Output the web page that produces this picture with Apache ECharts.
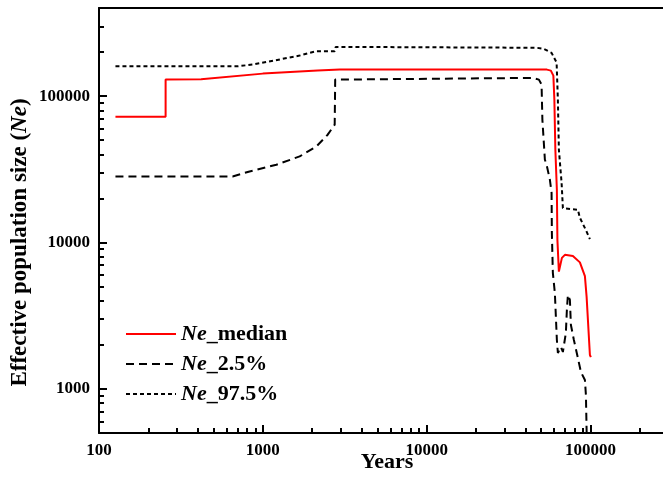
<!DOCTYPE html>
<html>
<head>
<meta charset="utf-8">
<script src="https://cdn.jsdelivr.net/npm/echarts@6/dist/echarts.min.js"></script>
<style>
  html, body { margin: 0; padding: 0; background: #fff; }
  #chart { width: 663px; height: 477px; }
</style>
</head>
<body>
<div id="chart"></div>
<script>
// tick values
const xMajor = [100, 1000, 10000, 100000];
const xMinor = [200, 300, 400, 500, 600, 700, 800, 900,
  2000, 3000, 4000, 5000, 6000, 7000, 8000, 9000,
  20000, 30000, 40000, 50000, 60000, 70000, 80000, 90000, 200000];
const yMajor = [1000, 10000, 100000];
const yMinor = [600, 700, 800, 900,
  2000, 3000, 4000, 5000, 6000, 7000, 8000, 9000,
  20000, 30000, 40000, 50000, 60000, 70000, 80000, 90000, 200000, 300000];

// Ne_median
const medianYears = [126, 255, 255, 420, 425, 1000, 2160, 2950, 54150, 57280, 59330, 60170, 61020, 62330, 62800,
  64120, 66900, 69770, 78070, 86140, 92430, 94660, 99160, 100500];
const medianNe = [72400, 72400, 129700, 130500, 134000, 142500, 149400, 151800, 151800, 149400, 138100, 94630, 43060, 22930, 10430,
  6330, 7860, 8240, 8087, 7320, 5900, 4272, 1705, 1650];

// Ne_2.5%
const lowYears = [126, 654, 830, 1209, 1678, 2123, 2488, 2745, 2765, 44480, 48420, 50270, 50850, 52670, 53930, 56490,
  57860, 58100, 58910, 60590, 62330, 63220, 65950, 67830, 70730, 71740, 72770, 74850, 75920, 79170, 83750,
  87400, 92430, 93760, 95100];
const lowNe = [28280, 28280, 30590, 34000, 38740, 45350, 54540, 63830, 129700, 133200, 129700, 119900, 69000, 36780, 34000, 26850,
  21880, 11650, 6210, 4530, 2160, 1760, 1935, 1788, 2413, 3465, 4388, 4056, 2735, 2160, 1627,
  1305, 1150, 909, 400];

// Ne_97.5%
const highYears = [126, 700, 866, 1321, 1678, 1931, 2123, 2745, 2784, 46860, 51500, 57860, 62100, 63220, 64120,
  66600, 67830, 83750, 86140, 94660, 99160];
const highNe = [160000, 160000, 164300, 179700, 189300, 197500, 202500, 202500, 217000, 214000, 211000, 197500, 169500, 94630, 43060,
  25600, 17190, 16740, 14760, 11890, 10550];

const zip = (xs, ys) => xs.map((x, i) => [x, ys[i]]);

const font = "'Liberation Serif', 'Times New Roman', serif";
const chart = echarts.init(document.getElementById('chart'));

const xBase = {
  type: 'log', logBase: 10, min: 100, max: 277000,
  gridIndex: 0, position: 'bottom',
  splitLine: { show: false }
};
const yBase = {
  type: 'log', logBase: 10, min: 500, max: 400000,
  gridIndex: 0, position: 'left',
  splitLine: { show: false }
};
const plain = v => String(Math.round(v));

chart.setOption({
  animation: false,
  grid: { left: 99, right: 0, top: 8, bottom: 44, outerBoundsMode: 'none', containLabel: false },
  xAxis: [
    Object.assign({}, xBase, {
      name: 'Years',
      nameLocation: 'middle',
      nameGap: 18,
      nameMoveOverlap: false,
      nameTextStyle: { fontFamily: font, fontWeight: 'bold', fontSize: 22, color: '#000', padding: [0, 0, 0, 12] },
      axisLine: { show: true, lineStyle: { color: '#000', width: 2 } },
      axisTick: { show: true, inside: true, length: 8, lineStyle: { color: '#000', width: 2 }, customValues: xMajor },
      axisLabel: { fontFamily: font, fontWeight: 'bold', fontSize: 17, color: '#000', margin: 9, customValues: xMajor, formatter: plain }
    }),
    Object.assign({}, xBase, {
      axisLine: { show: false },
      axisTick: { show: true, inside: true, length: 5, lineStyle: { color: '#000', width: 2 }, customValues: xMinor },
      axisLabel: { show: false }
    }),
    Object.assign({}, xBase, {
      position: 'top',
      axisLine: { show: true, lineStyle: { color: '#000', width: 2 } },
      axisTick: { show: false },
      axisLabel: { show: false }
    })
  ],
  yAxis: [
    Object.assign({}, yBase, {
      name: '{b|Effective population size (}{i|Ne}{b|)}',
      nameLocation: 'middle',
      nameGap: 67,
      nameRotate: 90,
      nameMoveOverlap: false,
      nameTextStyle: {
        color: '#000',
        padding: [0, 44, 0, 0],
        rich: {
          b: { fontFamily: font, fontWeight: 'bold', fontSize: 23, color: '#000' },
          i: { fontFamily: font, fontWeight: 'bold', fontStyle: 'italic', fontSize: 23, color: '#000' }
        }
      },
      axisLine: { show: true, lineStyle: { color: '#000', width: 2 } },
      axisTick: { show: true, inside: true, length: 8, lineStyle: { color: '#000', width: 2 }, customValues: yMajor },
      axisLabel: { fontFamily: font, fontWeight: 'bold', fontSize: 17, color: '#000', margin: 9, customValues: yMajor, formatter: plain }
    }),
    Object.assign({}, yBase, {
      axisLine: { show: false },
      axisTick: { show: true, inside: true, length: 5, lineStyle: { color: '#000', width: 2 }, customValues: yMinor },
      axisLabel: { show: false }
    })
  ],
  legend: {
    left: 120, top: 318, orient: 'vertical',
    itemWidth: 50, itemHeight: 14, itemGap: 8,
    itemStyle: { opacity: 0 },
    formatter: n => '{i|Ne}{b|' + n.slice(2) + '}',
    textStyle: {
      rich: {
        b: { fontFamily: font, fontWeight: 'bold', fontSize: 22, color: '#000' },
        i: { fontFamily: font, fontWeight: 'bold', fontStyle: 'italic', fontSize: 22, color: '#000' }
      }
    },
    data: ['Ne_median', 'Ne_2.5%', 'Ne_97.5%']
  },
  series: [
    {
      name: 'Ne_median', type: 'line', symbol: 'none',
      data: zip(medianYears, medianNe),
      lineStyle: { color: '#ff0000', width: 2 },
      itemStyle: { color: '#ff0000' }
    },
    {
      name: 'Ne_2.5%', type: 'line', symbol: 'none',
      data: zip(lowYears, lowNe),
      lineStyle: { color: '#000', width: 2, type: [8, 5] },
      itemStyle: { color: '#000' }
    },
    {
      name: 'Ne_97.5%', type: 'line', symbol: 'none',
      data: zip(highYears, highNe),
      lineStyle: { color: '#000', width: 2, type: [4, 3] },
      itemStyle: { color: '#000' }
    }
  ]
});
</script>
</body>
</html>
